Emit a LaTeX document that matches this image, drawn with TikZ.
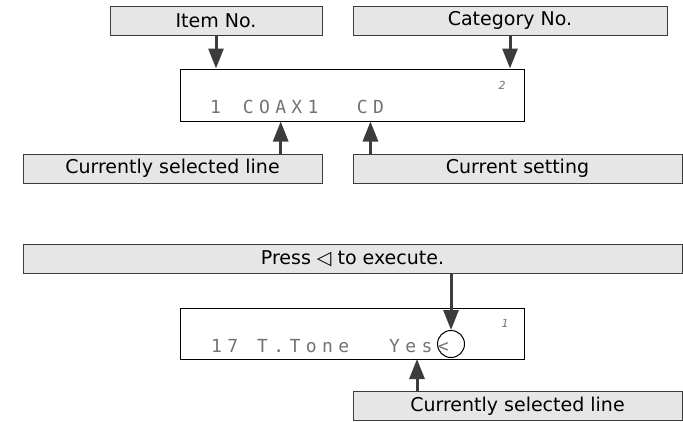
\documentclass[tikz,border=0pt]{standalone}
\usepackage{fontspec}
\setmainfont{DejaVu Sans}
\newfontfamily\lcdfont[LetterSpace=30]{DejaVu Sans Mono}
\usetikzlibrary{arrows.meta}
\definecolor{boxgray}{HTML}{E6E6E6}
\definecolor{inkgray}{HTML}{3C3C3C}

\begin{document}
\begin{tikzpicture}[
    x=1pt, y=-1pt,
    box/.style={draw=inkgray, fill=boxgray, line width=0.9pt, minimum height=29pt, inner sep=0pt, font=\fontsize{19}{22}\selectfont},
    panel/.style={draw=black, line width=1pt, minimum width=344pt, minimum height=52pt, inner sep=0pt},
    dots/.style={anchor=base west, inner sep=0pt, text=black!55, font=\lcdfont\fontsize{18}{20}\selectfont},
    catmark/.style={inner sep=0pt, text=black!55, font=\fontsize{11}{12}\selectfont\itshape},
    pointer/.style={-{Triangle[length=20pt, width=15pt]}, line width=3pt, draw=inkgray}
]
    \useasboundingbox (0,0) rectangle (683,421);

    % 1. Upper display
    \node[box, minimum width=212pt] (item) at (216,20.5) {Item No.};
    \node[box, minimum width=314pt] (cat) at (510,20.5) {Category No.};
    \node[panel] (disp) at (352,95) {};
    \node[dots] (num) at (210,113) {1};
    \node[dots] (coax) at (242.6,113) {COAX1};
    \node[dots] (src) at (356.7,113) {CD};
    \node[catmark] (catno) at (502,85) {2};
    \node[box, minimum width=299pt] (sel) at (172.5,168.5) {Currently selected line};
    \node[box, minimum width=329pt] (set) at (517.5,168.5) {Current setting};

    % Arrows
    \draw[pointer] (item.south) -- (item.south |- disp.north);
    \draw[pointer] (cat.south) -- (cat.south |- disp.north);
    \draw[pointer] (sel.north -| coax) -- (coax |- disp.south);
    \draw[pointer] (set.north -| src) -- (src |- disp.south);

    % 2. Lower display
    \node[box, minimum width=659pt] (press) at (352.5,259) {Press ◁ to execute.};
    \node[panel, minimum height=51pt] (disp2) at (352,333.5) {};
    \node[dots] (trk) at (211,352) {17};
    \node[dots] (tone) at (257,352) {T.Tone};
    \node[dots] (yes) at (389,352) {Yes<};
    \node[draw, circle, line width=1pt, minimum size=27pt, inner sep=0pt] (knob) at (451,344) {};
    \node[catmark] (catno2) at (505,323) {1};
    \node[box, minimum width=329pt] (sel2) at (517.5,406) {Currently selected line};
    \coordinate (pick) at (417,359);

    % Arrows
    \draw[pointer] (press.south -| knob) -- (knob.north);
    \draw[pointer] (sel2.north -| pick) -- (pick);

\end{tikzpicture}
\end{document}
